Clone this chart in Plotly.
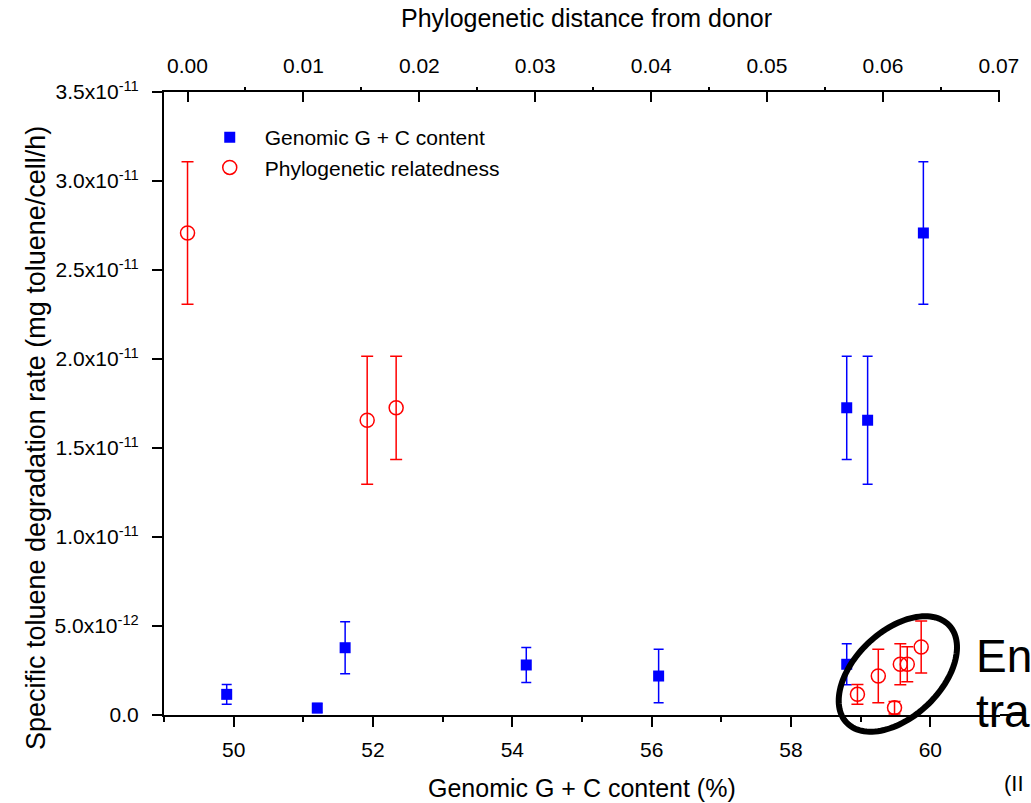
import numpy as np
import plotly.graph_objects as go

# ---------------- data ----------------
gc_content = [49.9, 51.2, 51.6, 54.2, 56.1, 58.8, 58.8, 59.1, 59.9]
rate_gc = [1.16e-12, 0.39e-12, 3.78e-12, 2.81e-12, 2.19e-12, 2.85e-12, 1.726e-11, 1.656e-11, 2.708e-11]
err_gc = [0.55e-12, 0.25e-12, 1.46e-12, 0.98e-12, 1.50e-12, 1.15e-12, 0.29e-11, 0.36e-11, 0.40e-11]

phylo_dist = [0.0, 0.0155, 0.0180, 0.0578, 0.0596, 0.0610, 0.0615, 0.0621, 0.0633]
rate_phy = [2.708e-11, 1.656e-11, 1.726e-11, 1.16e-12, 2.19e-12, 0.41e-12, 2.85e-12, 2.85e-12, 3.82e-12]
err_phy = [0.40e-11, 0.36e-11, 0.29e-11, 0.55e-12, 1.50e-12, 0.35e-12, 1.15e-12, 0.98e-12, 1.46e-12]

y_tickvals = [0, 0.5e-11, 1.0e-11, 1.5e-11, 2.0e-11, 2.5e-11, 3.0e-11, 3.5e-11]
y_ticktext = ["0.0", "5.0x10<sup>-12</sup>", "1.0x10<sup>-11</sup>", "1.5x10<sup>-11</sup>",
              "2.0x10<sup>-11</sup>", "2.5x10<sup>-11</sup>", "3.0x10<sup>-11</sup>", "3.5x10<sup>-11</sup>"]
gc_ticks = [50, 52, 54, 56, 58, 60]
dist_ticks = [0.00, 0.01, 0.02, 0.03, 0.04, 0.05, 0.06, 0.07]

FONT = "Liberation Sans, Arial, sans-serif"
W, H = 1031, 803
L, R, T, B = 164, 1007, 92, 715  # plot area in pixels

def px2paper(px, py):
    return (px - L) / (R - L), (B - py) / (B - T)

fig = go.Figure()

fig.add_trace(go.Scatter(
    x=gc_content, y=rate_gc, mode="markers", name="Genomic G + C content",
    legendgroup="gc",
    marker=dict(symbol="square", size=11, color="#0000FF"),
    error_y=dict(type="data", array=err_gc, visible=True, color="#0000FF", thickness=1.5, width=5),
    xaxis="x", yaxis="y", cliponaxis=False,
))
fig.add_trace(go.Scatter(
    x=phylo_dist, y=rate_phy, mode="markers", name="Phylogenetic relatedness",
    legendgroup="phy",
    marker=dict(symbol="circle-open", size=14, color="#FF0000", line=dict(width=1.5, color="#FF0000")),
    error_y=dict(type="data", array=err_phy, visible=True, color="#FF0000", thickness=1.5, width=6),
    xaxis="x2", yaxis="y", cliponaxis=False,
))

# ellipse (annotation decoration) in pixel space -> paper
cx, cy, a, b, ang = 904, 674, 71, 43, np.deg2rad(43)
t = np.linspace(0, 2 * np.pi, 120)
ex = cx + a * np.cos(t) * np.cos(ang) - b * np.sin(t) * np.sin(ang)
ey = cy - (a * np.cos(t) * np.sin(ang) + b * np.sin(t) * np.cos(ang))
pts = [px2paper(u, v) for u, v in zip(ex, ey)]
path = "M " + " L ".join(f"{u:.5f},{v:.5f}" for u, v in pts) + " Z"
shapes = [
    dict(type="path", xref="paper", yref="paper", path=path,
         line=dict(color="black", width=6), layer="above"),
    dict(type="line", xref="paper", yref="paper", x0=1.0, x1=px2paper(1031, 0)[0], y0=0, y1=0,
         line=dict(color="black", width=2)),
]

annotations = []
def ann(text, px, py, size, xanchor="center", angle=0):
    x, y = px2paper(px, py)
    annotations.append(dict(text=text, x=x, y=y, xref="paper", yref="paper", showarrow=False,
                            xanchor=xanchor, yanchor="middle", textangle=angle,
                            font=dict(family=FONT, size=size, color="black")))

ann("Genomic G + C content (%)", 585, 788, 25)
ann("Phylogenetic distance from donor", 590, 18, 25)
ann("Specific toluene degradation rate (mg toluene/cell/h)", 35, 438, 27, angle=-90)
ann("En", 981, 656, 46, xanchor="left")
ann("tra", 981, 711, 46, xanchor="left")
ann("(II", 1009, 783, 22, xanchor="left")

axis_common = dict(showgrid=False, zeroline=False, showline=True, linecolor="black", linewidth=2,
                   tickcolor="black", tickwidth=2, tickfont=dict(family=FONT, size=21, color="black"))

fig.update_layout(
    width=W, height=H, margin=dict(l=L, r=W - R, t=T, b=H - B),
    paper_bgcolor="white", plot_bgcolor="white",
    font=dict(family=FONT, size=21, color="black"),
    xaxis=dict(range=[49, 61], tickvals=gc_ticks, ticks="outside", ticklen=10,
               minor=dict(tickvals=[49, 51, 53, 55, 57, 59], ticks="outside", ticklen=5,
                          tickcolor="black", tickwidth=1.5),
               ticklabelstandoff=5, **axis_common),
    xaxis2=dict(range=[-0.00203, 0.0701], overlaying="x", side="top", anchor="y",
                tickvals=dist_ticks, tickformat=".2f", ticks="inside", ticklen=10,
                minor=dict(tickvals=[0.005, 0.015, 0.025, 0.035, 0.045, 0.055, 0.065],
                           ticks="outside", ticklen=3, tickcolor="black", tickwidth=1.5),
                ticklabelstandoff=9, **axis_common),
    yaxis=dict(range=[0, 3.5e-11], tickvals=y_tickvals, ticktext=y_ticktext,
               ticks="outside", ticklen=10, ticklabelstandoff=9, **axis_common),
    legend=dict(x=px2paper(195, 0)[0], y=px2paper(0, 117)[1], xanchor="left", yanchor="top",
                bgcolor="rgba(0,0,0,0)", font=dict(family=FONT, size=21, color="black"),
                itemwidth=60, traceorder="grouped", tracegroupgap=0),
    showlegend=True,
    shapes=shapes, annotations=annotations,
)

fig.write_html("out.html")
